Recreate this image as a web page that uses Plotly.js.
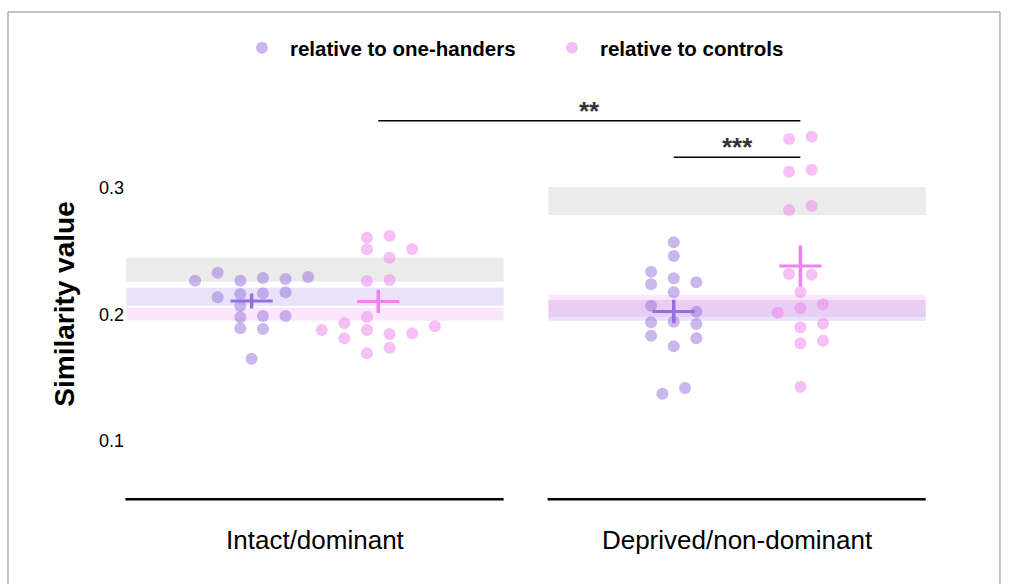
<!DOCTYPE html>
<html>
<head>
<meta charset="utf-8">
<script src="https://cdn.plot.ly/plotly-3.0.1.min.js"></script>
<style>
  html, body { margin: 0; padding: 0; background: #fff; }
  #chart { width: 1013px; height: 584px; }
</style>
</head>
<body>
<div id="chart"></div>
<script>
// ---------- data ----------
const groupLabels = ["Intact/dominant", "Deprived/non-dominant"];
const seriesNames = ["relative to one-handers", "relative to controls"];

// similarity values per participant
const oneHandIntact = [0.2266, 0.2329, 0.2135, 0.2266, 0.2161, 0.2066, 0.1977, 0.1890, 0.1650,
                       0.2288, 0.2167, 0.1987, 0.1885, 0.2280, 0.2175, 0.1987, 0.2295];
const oneHandDeprived = [0.2570, 0.2461, 0.2337, 0.2238, 0.2285, 0.2254, 0.2175, 0.2069, 0.2021,
                         0.1938, 0.1942, 0.1924, 0.1832, 0.1811, 0.1748, 0.1419, 0.1374];
const controlsIntact = [0.2606, 0.2622, 0.2514, 0.2517, 0.2448, 0.2264, 0.2272, 0.1979, 0.1877,
                        0.1930, 0.1811, 0.1877, 0.1845, 0.1851, 0.1906, 0.1693, 0.1737];
const controlsDeprived = [0.3386, 0.3404, 0.3127, 0.3143, 0.2825, 0.2856, 0.2319, 0.2314, 0.2177,
                          0.2051, 0.2080, 0.2013, 0.1898, 0.1927, 0.1772, 0.1792, 0.1429];

// beeswarm slot of each point
const oneHandIntactSlots = [-5, -3, -3, -1, -1, -1, -1, -1, 0, 1, 1, 1, 1, 3, 3, 3, 5];
const oneHandDeprivedSlots = [0, 0, -2, -2, 0, 2, 0, -2, 2, -2, 0, 2, -2, 2, 0, 1, -1];
const controlsIntactSlots = [-1, 1, -1, 3, 1, -1, 1, -1, -5, -3, -3, -1, 1, 3, 5, -1, 1];
const controlsDeprivedSlots = [-1, 1, -1, 1, -1, 1, -1, 1, 0, 0, 2, -2, 0, 2, 0, 2, 0];

// error half-length of the mean crosses [intact, deprived]
const oneHandErr = [0.0059, 0.0092];
const controlsErr = [0.0091, 0.0161];

// reference bands [intact, deprived]
const grayBandLow = [0.2258, 0.2785];
const grayBandHigh = [0.2448, 0.3006];
const purpleBandLow = [0.2069, 0.1950];
const purpleBandHigh = [0.2211, 0.2114];
const pinkBandLow = [0.1950, 0.1982];
const pinkBandHigh = [0.2053, 0.2153];

// significance brackets
const sigLabels = ["**", "***"];
const sigLevels = [0.3530, 0.3241];

const yTicks = [0.1, 0.2, 0.3];

// ---------- styling / layout helpers ----------
const FONT = "Liberation Sans, Arial, Helvetica, sans-serif";
const purple = "#9370DB";
const violet = "#EE82EE";
const sideOff = 0.15;
const slotW = 0.0268;
const bandHalf = 0.447;

function xs(groupIdx, side, slots) {
  return slots.map(s => groupIdx + side * sideOff + s * slotW);
}
function mean(a) { return a.reduce((p, c) => p + c, 0) / a.length; }

const ohX = xs(1, -1, oneHandIntactSlots).concat(xs(2, -1, oneHandDeprivedSlots));
const ohY = oneHandIntact.concat(oneHandDeprived);
const ctX = xs(1, 1, controlsIntactSlots).concat(xs(2, 1, controlsDeprivedSlots));
const ctY = controlsIntact.concat(controlsDeprived);

const traces = [
  {
    type: "scatter", mode: "markers", name: "<b>" + seriesNames[0] + "</b>",
    x: ohX, y: ohY, cliponaxis: false,
    marker: { color: purple, size: 12, opacity: 0.5, line: { width: 0 } },
    hoverinfo: "skip"
  },
  {
    type: "scatter", mode: "markers", name: "<b>" + seriesNames[1] + "</b>",
    x: ctX, y: ctY, cliponaxis: false,
    marker: { color: violet, size: 12, opacity: 0.5, line: { width: 0 } },
    hoverinfo: "skip"
  },
  {
    type: "scatter", mode: "markers", showlegend: false,
    x: [1 - sideOff, 2 - sideOff],
    y: [mean(oneHandIntact), mean(oneHandDeprived)],
    marker: { size: 1, color: "rgba(0,0,0,0)" },
    error_y: { type: "data", array: oneHandErr, visible: true, color: purple, thickness: 3.5, width: 0 },
    error_x: { type: "constant", value: 0.05, visible: true, color: purple, thickness: 3, width: 0 },
    hoverinfo: "skip"
  },
  {
    type: "scatter", mode: "markers", showlegend: false,
    x: [1 + sideOff, 2 + sideOff],
    y: [mean(controlsIntact), mean(controlsDeprived)],
    marker: { size: 1, color: "rgba(0,0,0,0)" },
    error_y: { type: "data", array: controlsErr, visible: true, color: violet, thickness: 3.5, width: 0 },
    error_x: { type: "constant", value: 0.05, visible: true, color: violet, thickness: 3, width: 0 },
    hoverinfo: "skip"
  }
];

const shapes = [];
[1, 2].forEach((g, i) => {
  shapes.push({ type: "rect", xref: "x", yref: "y", layer: "below",
    x0: g - bandHalf, x1: g + bandHalf, y0: grayBandLow[i], y1: grayBandHigh[i],
    fillcolor: "rgba(0,0,0,0.08)", line: { width: 0 } });
  shapes.push({ type: "rect", xref: "x", yref: "y", layer: "below",
    x0: g - bandHalf, x1: g + bandHalf, y0: pinkBandLow[i], y1: pinkBandHigh[i],
    fillcolor: "rgba(238,130,238,0.2)", line: { width: 0 } });
  shapes.push({ type: "rect", xref: "x", yref: "y", layer: "below",
    x0: g - bandHalf, x1: g + bandHalf, y0: purpleBandLow[i], y1: purpleBandHigh[i],
    fillcolor: "rgba(147,112,219,0.2)", line: { width: 0 } });
  // facet axis line
  shapes.push({ type: "line", xref: "x", yref: "paper",
    x0: g - bandHalf - 0.002, x1: g + bandHalf, y0: 0.002, y1: 0.002,
    line: { color: "#000", width: 2.5 } });
});
// significance brackets
shapes.push({ type: "line", xref: "x", yref: "y", x0: 1 + sideOff, x1: 2 + sideOff,
  y0: sigLevels[0], y1: sigLevels[0], line: { color: "#000", width: 1.5 } });
shapes.push({ type: "line", xref: "x", yref: "y", x0: 2 - sideOff, x1: 2 + sideOff,
  y0: sigLevels[1], y1: sigLevels[1], line: { color: "#000", width: 1.5 } });
// outer frame
shapes.push({ type: "rect", xref: "paper", yref: "paper",
  x0: -0.1459, x1: 1.0910, y0: -0.4, y1: 1.2449,
  line: { color: "#888", width: 1 }, fillcolor: "rgba(0,0,0,0)" });

const annotations = [
  { x: (1 + sideOff + 2 + sideOff) / 2, y: sigLevels[0], xref: "x", yref: "y",
    text: "<b>" + sigLabels[0] + "</b>", showarrow: false, yanchor: "middle", yshift: 10,
    font: { family: FONT, size: 26, color: "#333" } },
  { x: 2, y: sigLevels[1], xref: "x", yref: "y",
    text: "<b>" + sigLabels[1] + "</b>", showarrow: false, yanchor: "middle", yshift: 10,
    font: { family: FONT, size: 26, color: "#333" } }
];

const layout = {
  width: 1013, height: 584,
  margin: { l: 125, r: 86, t: 108, b: 84 },
  paper_bgcolor: "#fff", plot_bgcolor: "rgba(0,0,0,0)",
  font: { family: FONT, color: "#000" },
  showlegend: true,
  legend: {
    orientation: "h", x: 0.1359, xanchor: "left", y: 1.1531, yanchor: "middle",
    font: { family: FONT, size: 20.5, color: "#000" },
    itemwidth: 46,
    entrywidth: 249, entrywidthmode: "pixels",
    bgcolor: "rgba(0,0,0,0)"
  },
  xaxis: {
    range: [0.55, 2.45], tickvals: [1, 2], ticktext: groupLabels,
    showgrid: false, zeroline: false, showline: false, ticks: "",
    tickfont: { family: FONT, size: 26, color: "#000" },
    ticklabelstandoff: 22, fixedrange: true
  },
  yaxis: {
    range: [0.0534, 0.36303], tickvals: yTicks, ticktext: yTicks.map(v => v.toFixed(1)),
    showgrid: false, zeroline: false, showline: false, ticks: "",
    tickfont: { family: FONT, size: 18, color: "#000" },
    title: { text: "<b>Similarity value</b>", font: { family: FONT, size: 28, color: "#000" }, standoff: 16 },
    fixedrange: true
  },
  shapes: shapes,
  annotations: annotations
};

Plotly.newPlot("chart", traces, layout, { displayModeBar: false, staticPlot: true });
</script>
</body>
</html>
